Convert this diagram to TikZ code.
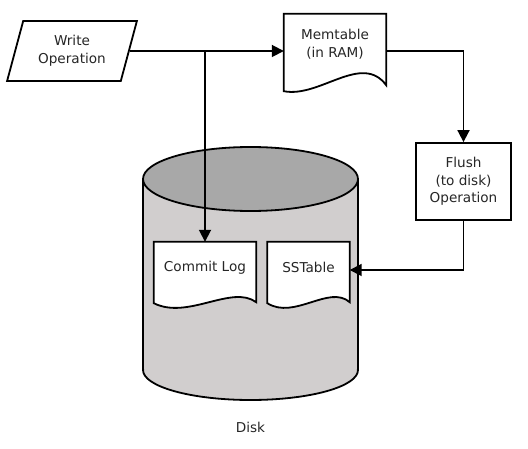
\documentclass[tikz,border=0pt]{standalone}
\usepackage{fontspec}
\setmainfont{DejaVu Sans}
\usetikzlibrary{shapes.geometric,arrows.meta,calc}
\definecolor{txtgray}{HTML}{262626}
\definecolor{bodygray}{HTML}{D1CECE}
\definecolor{topgray}{HTML}{A8A8A8}
\begin{document}
\begin{tikzpicture}[x=1pt,y=-1pt,
  font=\fontsize{13.6pt}{17.5pt}\selectfont,
  lbl/.style={text=txtgray,align=center,inner sep=0pt},
  outline/.style={draw=black,line width=1.8pt,line join=miter},
  arr/.style={line width=1.8pt,-{Triangle[length=12pt,width=12pt]}},
  plain/.style={line width=1.8pt}]
\useasboundingbox (0,0) rectangle (528,449);

% Disk cylinder
\fill[bodygray] (143,179) rectangle (358,370);
\fill[bodygray] (250.5,370) ellipse [x radius=107.5pt, y radius=30pt];
\begin{scope}
  \clip (138,370) rectangle (364,406);
  \draw[plain] (250.5,370) ellipse [x radius=107.5pt, y radius=30pt];
\end{scope}
\draw[plain] (143,179) -- (143,370);
\draw[plain] (358,179) -- (358,370);
\draw[plain,fill=topgray] (250.5,179) ellipse [x radius=107.5pt, y radius=32pt];
\node[lbl] (disk) at (250.5,427) {Disk};

% Write operation
\node[lbl,trapezium,trapezium left angle=70,trapezium right angle=110,
      trapezium stretches=true,minimum width=130pt,minimum height=60pt,
      outline,fill=white] (wo) at (72,51) {Write\\Operation};

% Memtable
\node[lbl,minimum width=102pt,minimum height=60pt] (mem) at (335,44) {};
\draw[outline,fill=white] (mem.north west) -- (mem.north east) -- ($(mem.south east)+(0,11)$)
  .. controls ($(mem.south west)+(78,-22)$) and ($(mem.south west)+(36,24)$) .. ($(mem.south west)+(0,17)$) -- cycle;
\node[lbl] at (mem.center) {Memtable\\(in RAM)};

% Flush
\node[lbl,outline,fill=white,minimum width=95pt,minimum height=77pt] (fl) at (463.5,181.5) {Flush\\(to disk)\\Operation};

% Commit Log
\node[lbl,minimum width=102pt,minimum height=52pt] (cl) at (205,268) {};
\draw[outline,fill=white] (cl.north west) -- (cl.north east) -- ($(cl.south east)+(0,8)$)
  .. controls ($(cl.south west)+(78,-10)$) and ($(cl.south west)+(34,26)$) .. ($(cl.south west)+(0,9)$) -- cycle;
\node[lbl] at (cl.center) {Commit Log};

% SSTable
\node[lbl,minimum width=82pt,minimum height=52pt] (sst) at (308.5,268) {};
\draw[outline,fill=white] (sst.north west) -- (sst.north east) -- ($(sst.south east)+(0,8)$)
  .. controls ($(sst.south west)+(62,-10)$) and ($(sst.south west)+(27,26)$) .. ($(sst.south west)+(0,9)$) -- cycle;
\node[lbl] at ($(sst.center)+(0,-1)$) {SSTable};

% connectors
\draw[arr] (wo.east) -- (wo.east -| mem.west);
\draw[arr] (wo.east -| cl.north) -- (cl.north);
\draw[arr] (wo.east -| mem.east) -| (fl.north);
\draw[arr] (fl.south) |- ($(sst.east)+(0,2)$);
\end{tikzpicture}
\end{document}
